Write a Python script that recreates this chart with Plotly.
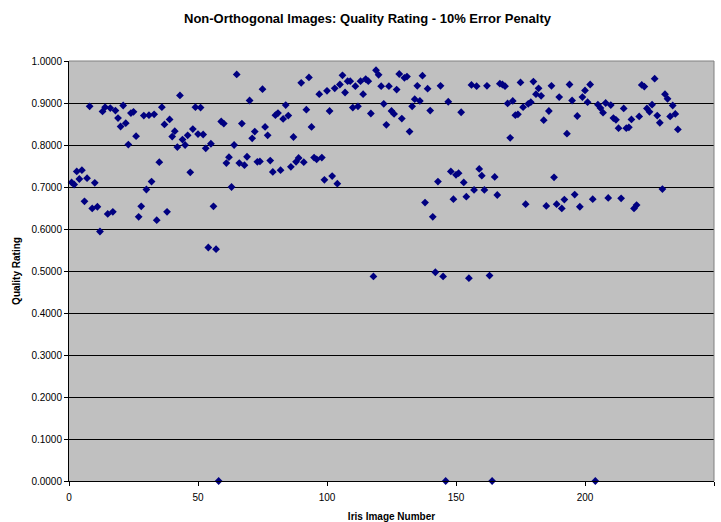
import plotly.graph_objects as go

image_numbers = list(range(1, 237))

quality_1_60 = [
    0.711, 0.706, 0.737, 0.719, 0.740, 0.666, 0.721, 0.892, 0.649, 0.710,
    0.653, 0.594, 0.880, 0.890, 0.636, 0.888, 0.641, 0.882, 0.864, 0.844,
    0.894, 0.852, 0.801, 0.876, 0.879, 0.821, 0.629, 0.654, 0.870, 0.694,
    0.871, 0.713, 0.873, 0.621, 0.759, 0.890, 0.849, 0.641, 0.861, 0.820,
    0.833, 0.795, 0.918, 0.813, 0.800, 0.823, 0.735, 0.838, 0.890, 0.826,
    0.889, 0.825, 0.792, 0.556, 0.803, 0.654, 0.552, 0.000, 0.856, 0.851,
]
quality_61_120 = [
    0.757, 0.771, 0.700, 0.800, 0.968, 0.757, 0.851, 0.752, 0.772, 0.906,
    0.816, 0.832, 0.760, 0.761, 0.933, 0.843, 0.823, 0.763, 0.736, 0.871,
    0.876, 0.740, 0.862, 0.895, 0.870, 0.748, 0.819, 0.760, 0.769, 0.948,
    0.759, 0.884, 0.961, 0.843, 0.770, 0.766, 0.921, 0.770, 0.717, 0.929,
    0.881, 0.726, 0.935, 0.708, 0.944, 0.966, 0.925, 0.952, 0.952, 0.889,
    0.940, 0.892, 0.952, 0.921, 0.957, 0.952, 0.875, 0.487, 0.978, 0.967,
]
quality_121_180 = [
    0.940, 0.898, 0.848, 0.940, 0.881, 0.874, 0.932, 0.969, 0.863, 0.960,
    0.963, 0.832, 0.892, 0.909, 0.941, 0.905, 0.965, 0.663, 0.934, 0.882,
    0.629, 0.497, 0.713, 0.941, 0.487, 0.000, 0.903, 0.737, 0.671, 0.729,
    0.733, 0.878, 0.711, 0.677, 0.483, 0.943, 0.693, 0.940, 0.743, 0.727,
    0.693, 0.941, 0.489, 0.000, 0.724, 0.681, 0.946, 0.944, 0.940, 0.899,
    0.817, 0.905, 0.871, 0.873, 0.949, 0.890, 0.659, 0.898, 0.902, 0.951,
]
quality_181_236 = [
    0.921, 0.935, 0.917, 0.859, 0.655, 0.881, 0.941, 0.723, 0.659, 0.914,
    0.649, 0.670, 0.827, 0.944, 0.906, 0.682, 0.869, 0.653, 0.914, 0.930,
    0.902, 0.944, 0.671, 0.000, 0.896, 0.888, 0.877, 0.900, 0.674, 0.895,
    0.864, 0.860, 0.840, 0.673, 0.887, 0.840, 0.842, 0.861, 0.649, 0.657,
    0.868, 0.943, 0.939, 0.887, 0.879, 0.896, 0.958, 0.870, 0.853, 0.695,
    0.921, 0.910, 0.868, 0.894, 0.874, 0.837,
]
quality = quality_1_60 + quality_61_120 + quality_121_180 + quality_181_236

x_ticks = [0, 50, 100, 150, 200, 250]
y_ticks = [0.0, 0.1, 0.2, 0.3, 0.4, 0.5, 0.6, 0.7, 0.8, 0.9, 1.0]

FONT = "Liberation Sans, Arial, sans-serif"

fig = go.Figure()
fig.add_trace(go.Scatter(
    x=image_numbers, y=quality, mode="markers",
    marker=dict(symbol="diamond", size=6, color="#000080",
                line=dict(width=0)),
    showlegend=False, cliponaxis=False,
))

fig.update_layout(
    width=721, height=522,
    margin=dict(l=69, r=7, t=61, b=41),
    paper_bgcolor="white", plot_bgcolor="#C0C0C0",
    font=dict(family=FONT, size=10, color="black"),
    title=dict(text="<b>Non-Orthogonal Images: Quality Rating - 10% Error Penalty</b>",
               x=367.5 / 721, xanchor="center", y=1 - 18 / 522, yanchor="middle",
               font=dict(family=FONT, size=13, color="black")),
    xaxis=dict(range=[0, 250], tickvals=x_ticks, showgrid=False, zeroline=False,
               showline=True, linecolor="black", linewidth=1,
               ticks="outside", ticklen=4, tickcolor="black",
               ticklabelstandoff=3, automargin=False,
               tickfont=dict(size=10),
               title=dict(text="<b>Iris Image Number</b>", standoff=12,
                          font=dict(size=10))),
    yaxis=dict(range=[0, 1], tickvals=y_ticks, tickformat=".4f",
               showgrid=True, gridcolor="black", gridwidth=1, zeroline=False,
               showline=True, linecolor="black", linewidth=1,
               ticks="outside", ticklen=4, tickcolor="black",
               automargin=False,
               tickfont=dict(size=10),
               title=dict(text="<b>Quality Rating</b>", standoff=8,
                          font=dict(size=10))),
    shapes=[
        dict(type="line", xref="paper", yref="paper", x0=0, x1=1, y0=1, y1=1,
             line=dict(color="#808080", width=1), layer="above"),
        dict(type="line", xref="paper", yref="paper", x0=1, x1=1, y0=0, y1=1,
             line=dict(color="#808080", width=1), layer="above"),
    ],
)

fig.write_html("out.html", config={"displayModeBar": False},
               post_script="document.body.style.margin='0';")
